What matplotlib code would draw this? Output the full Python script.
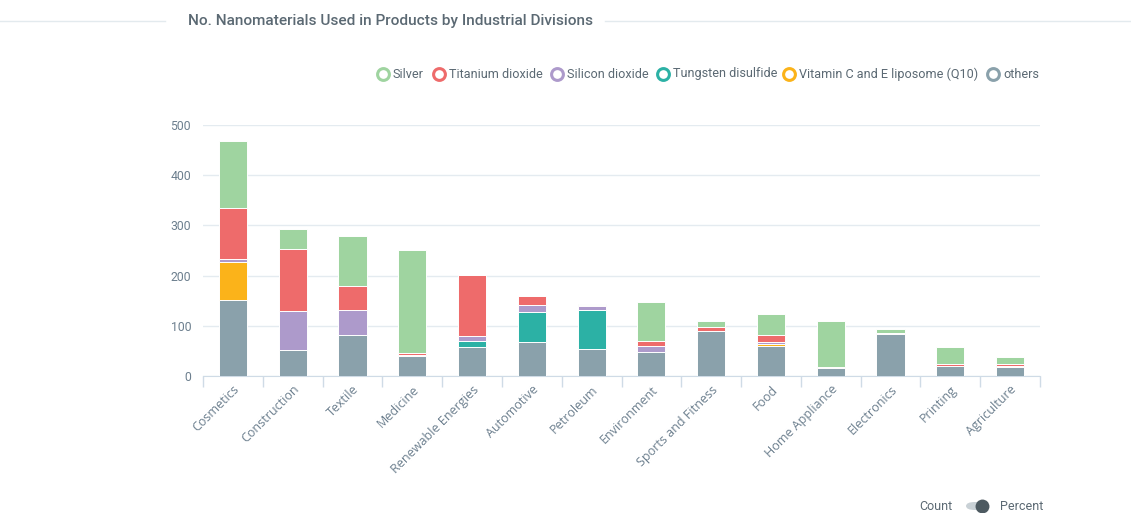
import matplotlib
matplotlib.use("Agg")
import matplotlib.pyplot as plt
import numpy as np
from matplotlib.lines import Line2D
from matplotlib.patches import FancyBboxPatch

categories = ["Cosmetics", "Construction", "Textile", "Medicine", "Renewable Energies",
              "Automotive", "Petroleum", "Environment", "Sports and Fitness", "Food",
              "Home Appliance", "Electronics", "Printing", "Agriculture"]

others = [152, 52, 82, 39, 57, 67, 53, 48, 89, 59, 15, 84, 19, 17]
vitamin = [75, 0, 0, 0, 0, 0, 0, 0, 0, 4, 0, 0, 0, 0]
tungsten = [0, 0, 0, 0, 12, 60, 78, 0, 0, 0, 0, 0, 0, 0]
silicon = [7, 78, 50, 3, 10, 14, 9, 11, 0, 4, 0, 0, 0, 3]
titanium = [101, 122, 47, 3, 122, 19, 2, 10, 8, 15, 2, 2, 5, 3]
silver = [133, 41, 100, 206, 0, 0, 2, 79, 12, 42, 92, 7, 33, 14]

legend_names = ["Silver", "Titanium dioxide", "Silicon dioxide", "Tungsten disulfide",
                "Vitamin C and E liposome (Q10)", "others"]
yticks = [0, 100, 200, 300, 400, 500]

colors = {
    "Silver": "#9fd4a0",
    "Titanium dioxide": "#ee6b6b",
    "Silicon dioxide": "#ad9acb",
    "Tungsten disulfide": "#2cb1a5",
    "Vitamin C and E liposome (Q10)": "#fbb31a",
    "others": "#8aa1ab",
}

FONT = ["Roboto", "DejaVu Sans"]
plt.rcParams["font.family"] = FONT
label_color = "#6c7f8e"

W, H = 1131, 513
fig = plt.figure(figsize=(W / 100, H / 100), dpi=100)
ax = fig.add_axes([203 / W, 1 - 376 / H, (1040 - 203) / W, (376 - 125) / H])

x = np.arange(len(categories))
stack = [("others", others), ("Vitamin C and E liposome (Q10)", vitamin),
         ("Tungsten disulfide", tungsten), ("Silicon dioxide", silicon),
         ("Titanium dioxide", titanium), ("Silver", silver)]
bottom = np.zeros(len(categories))
for name, vals in stack:
    v = np.array(vals, dtype=float)
    ax.bar(x, v, width=0.47, bottom=bottom, color=colors[name],
           edgecolor="white", linewidth=0.7, zorder=3)
    bottom += v

ax.set_xlim(-0.5, len(categories) - 0.5)
ax.set_ylim(0, 500)
ax.set_yticks(yticks)
ax.set_yticklabels([str(t) for t in yticks])
ax.grid(axis="y", color="#e4ebf0", linewidth=1, zorder=0)
for s in ["top", "right", "left"]:
    ax.spines[s].set_visible(False)
ax.spines["bottom"].set_color("#cfdbe6")
ax.tick_params(axis="y", length=0, labelsize=8.8, labelcolor=label_color, pad=8.5)

ax.set_xticks(x)
ax.set_xticklabels(categories, rotation=45, ha="right", rotation_mode="anchor",
                   fontsize=9, color=label_color, family=["Open Sans", "DejaVu Sans"])
ax.tick_params(axis="x", which="major", length=0, pad=5)
ax.set_xticks(np.arange(-0.5, len(categories)), minor=True)
ax.tick_params(axis="x", which="minor", length=8, color="#cfdbe6", width=1)

# Title with lines
ty_title = 1 - 21 / H
fig.text(188 / W, ty_title, "No. Nanomaterials Used in Products by Industrial Divisions",
         fontsize=11.1, color="#5b6973", ha="left", va="center", fontweight="medium")
fig.add_artist(Line2D([0, 165 / W], [ty_title] * 2, color="#e3eaee", lw=1))
fig.add_artist(Line2D([605 / W, 1130 / W], [ty_title] * 2, color="#e3eaee", lw=1))

# Legend
circle_x = [383, 439, 557, 663, 789, 993]
ly = 1 - 74 / H
for cx, name in zip(circle_x, legend_names):
    fig.add_artist(Line2D([cx / W], [ly], marker="o", markersize=8.5, markerfacecolor="white",
                          markeredgecolor=colors[name], markeredgewidth=2.2, linestyle="none"))
    fig.text((cx + 10) / W, ly, name, fontsize=9.1, color="#5b6973", ha="left", va="center")

# Count / Percent toggle
ty = 1 - 506 / H
fig.text(952 / W, ty, "Count", fontsize=9, color="#5b6973", ha="right", va="center")
fig.text(1000 / W, ty, "Percent", fontsize=9, color="#5b6973", ha="left", va="center")
track = FancyBboxPatch((966 / W, ty - 4 / H), 22 / W, 8 / H,
                       boxstyle="round,pad=0,rounding_size=0.008",
                       transform=fig.transFigure, facecolor="#c9d1d6", edgecolor="none")
fig.add_artist(track)
fig.add_artist(Line2D([982 / W], [ty], marker="o", markersize=10, markerfacecolor="#4d5a61",
                      markeredgecolor="none", linestyle="none"))

fig.savefig("out.png", dpi=100, facecolor="white")
